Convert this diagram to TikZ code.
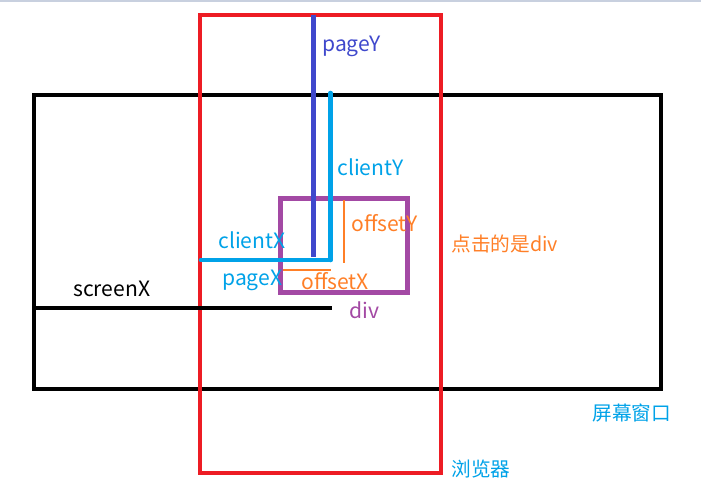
\documentclass[tikz,border=0pt]{standalone}
\usepackage{fontspec}
\setmainfont{Noto Sans CJK SC}
\definecolor{browserred}{HTML}{ED1C24}
\definecolor{pageblue}{HTML}{3F48CC}
\definecolor{clientcyan}{HTML}{00A2E8}
\definecolor{divpurple}{HTML}{A349A4}
\definecolor{offsetorange}{HTML}{FF7F27}
\definecolor{topgray}{HTML}{C8D0DF}
\tikzset{
  lbl/.style={anchor=west, inner sep=0pt, font=\fontsize{12}{14}\selectfont},
  cjklbl/.style={anchor=west, inner sep=0pt, font=\fontsize{11.2}{13}\selectfont},
  thickline/.style={line width=2.6pt, line cap=round},
  thinline/.style={line width=0.6pt, offsetorange}
}
\begin{document}
\begin{tikzpicture}[x=0.02cm, y=-0.02cm]
		\useasboundingbox (0,0) rectangle (701,499);
		\fill[topgray] (0,0) rectangle (701,2);

		% screen, browser and div
		\draw[line width=2.8pt] (34,95) rectangle (661,389);
		\draw[browserred, line width=2.4pt] (200,15) rectangle (441,473);
		\draw[divpurple, line width=2.6pt] (280.5,198.5) rectangle (407.5,292.5);

		% end points of the measures
		\coordinate (pagetop) at (313.5,15);
		\coordinate (pagebot) at (313.5,257);
		\coordinate (clienttop) at (330.5,93);
		\coordinate (click) at (330.5,260);
		\coordinate (clientleft) at (201,260);
		\coordinate (offytop) at (344,200);
		\coordinate (offybot) at (344,263);
		\coordinate (offxleft) at (283,270);
		\coordinate (offxright) at (331,270);
		\coordinate (screenleft) at (34,308);
		\coordinate (screenright) at (332,308);

		\draw[thickline, pageblue, line cap=butt] (pagetop) -- (pagebot);
		\draw[thickline, clientcyan] (clienttop) -- (click);
		\draw[thickline, clientcyan] (clientleft) -- (click);
		\draw[thinline] (offytop) -- (offybot);
		\draw[thinline] (offxleft) -- (offxright);
		\draw[thickline, line cap=butt] (screenleft) -- (screenright);

		% labels
		\node[lbl, pageblue] (pagey) at (322,46) {pageY};
		\node[lbl, clientcyan] (clienty) at (337,167) {clientY};
		\node[lbl, clientcyan] (clientx) at (218,240) {clientX};
		\node[lbl, clientcyan] (pagex) at (222,280) {pageX};
		\node[lbl, offsetorange] (offsety) at (351,223) {offsetY};
		\node[lbl, offsetorange] (offsetx) at (301,281) {offsetX};
		\node[lbl] (screenx) at (73,289) {screenX};
		\node[lbl, divpurple] (divlbl) at (349,310) {div};
		\node[cjklbl, offsetorange] (clicked) at (451,244) {点击的是div};
		\node[cjklbl, clientcyan] (screenwin) at (592,413) {屏幕窗口};
		\node[cjklbl, clientcyan] (browser) at (451,469) {浏览器};

	\end{tikzpicture}
\end{document}
